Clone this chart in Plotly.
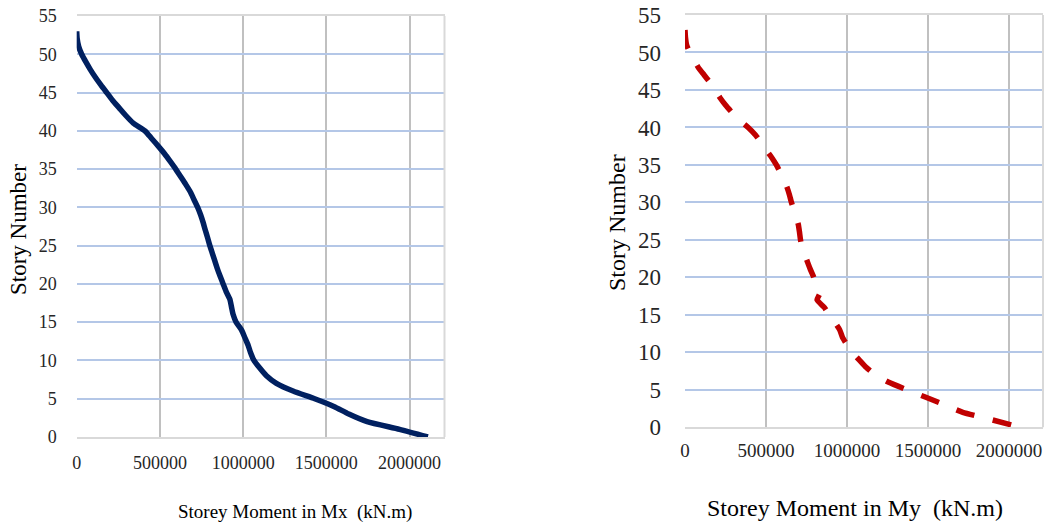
import plotly.graph_objects as go

# ---- data ----
stories = list(range(53, -1, -1))  # 53 .. 0

mx_moment = [0, 3000, 12000, 30000, 55000, 82000, 112000, 145000, 180000, 215000,
             255000, 295000, 340000, 410000, 450000, 490000, 528000, 562000, 595000, 625000,
             655000, 683000, 705000, 727000, 745000, 760000, 773000, 787000, 800000, 815000,
             830000, 845000, 862000, 880000, 898000, 920000, 930000, 940000, 958000, 990000,
             1010000, 1030000, 1045000, 1065000, 1100000, 1140000, 1200000, 1300000, 1430000, 1545000,
             1635000, 1745000, 1940000, 2110000]

my_moment = [0, 3000, 10000, 30000, 55000, 82000, 118000, 154000, 185000, 215000,
             250000, 290000, 335000, 390000, 435000, 470000, 500000, 535000, 564000, 588000,
             612000, 630000, 645000, 657000, 673000, 688000, 700000, 707000, 713000, 723000,
             740000, 757000, 775000, 795000, 810000, 835000, 815000, 860000, 890000, 925000,
             955000, 972000, 1000000, 1030000, 1075000, 1118000, 1175000, 1258000, 1370000, 1487000,
             1602000, 1715000, 1895000, 2070000]

x_ticks = [0, 500000, 1000000, 1500000, 2000000]
x_tick_text = ["0", "500000", "1000000", "1500000", "2000000"]
y_ticks = list(range(0, 56, 5))

W, H = 1049, 524
FONT = "Liberation Serif"

fig = go.Figure()
fig.add_trace(go.Scatter(x=mx_moment, y=stories, mode="lines", xaxis="x", yaxis="y",
                         line=dict(color="#002060", width=5.5, shape="spline", smoothing=0.6),
                         showlegend=False, hoverinfo="x+y"))
fig.add_trace(go.Scatter(x=my_moment, y=stories, mode="lines", xaxis="x2", yaxis="y2",
                         line=dict(color="#C00000", width=5.5, shape="spline", smoothing=0.5,
                                   dash="19px,19px"),
                         showlegend=False, hoverinfo="x+y"))

def px(v):
    return v / W

def py(v):
    return 1 - v / H

L1 = (76.7, 444.5, 16, 437)   # left, right, top, bottom pixels
L2 = (685, 1043, 15, 427.3)

grid_h = "#B4C7E7"
grid_v = "#C0C0C0"
border = "#D9D9D9"

def xaxis(dom, anchor, fsize, stand):
    return dict(domain=[px(dom[0]), px(dom[1])], anchor=anchor, range=[0, 2210000],
                tickvals=x_ticks, ticktext=x_tick_text, showgrid=True, gridcolor=grid_v,
                gridwidth=2, zeroline=True, zerolinecolor="rgba(0,0,0,0)", zerolinewidth=1,
                showline=True, linecolor=border, linewidth=2, mirror=True,
                ticks="", tickfont=dict(family=FONT, size=fsize, color="#262626"),
                ticklabelstandoff=stand, automargin=False, fixedrange=True)

def yaxis(dom, anchor, fsize, stand):
    return dict(domain=[py(dom[3]), py(dom[2])], anchor=anchor, range=[0, 55],
                tickvals=y_ticks, showgrid=True, gridcolor=grid_h, gridwidth=2,
                zeroline=False, showline=False, ticks="",
                tickfont=dict(family=FONT, size=fsize, color="#262626"),
                ticklabelstandoff=stand, automargin=False, fixedrange=True)

fig.update_layout(
    width=W, height=H, margin=dict(l=0, r=0, t=0, b=0, autoexpand=False),
    paper_bgcolor="white", plot_bgcolor="white",
    xaxis=xaxis(L1, "y", 18, 8),
    yaxis=yaxis(L1, "x", 18, 19),
    xaxis2=xaxis(L2, "y2", 19, 5),
    yaxis2=yaxis(L2, "x2", 23, 23),
    shapes=[
        dict(type="line", xref="x domain", yref="y domain", x0=1, x1=1, y0=0, y1=1,
             line=dict(color=border, width=2)),
        dict(type="line", xref="x2 domain", yref="y2 domain", x0=1, x1=1, y0=0, y1=1,
             line=dict(color=border, width=2)),
    ],
    annotations=[
        dict(text="Storey Moment in Mx  (kN.m)", x=px(295), y=py(512), xref="paper", yref="paper",
             showarrow=False, font=dict(family=FONT, size=19, color="#000000"),
             xanchor="center", yanchor="middle"),
        dict(text="Storey Moment in My  (kN.m)", x=px(855), y=py(508), xref="paper", yref="paper",
             showarrow=False, font=dict(family=FONT, size=24, color="#000000"),
             xanchor="center", yanchor="middle"),
        dict(text="Story Number", x=px(18), y=py(230), xref="paper", yref="paper", textangle=-90,
             showarrow=False, font=dict(family=FONT, size=23, color="#000000"),
             xanchor="center", yanchor="middle"),
        dict(text="Story Number", x=px(617), y=py(223), xref="paper", yref="paper", textangle=-90,
             showarrow=False, font=dict(family=FONT, size=24, color="#000000"),
             xanchor="center", yanchor="middle"),
    ],
)

fig.write_html("out.html", config={"displayModeBar": False},
               post_script="document.body.style.margin='0px';document.body.style.overflow='hidden';")
